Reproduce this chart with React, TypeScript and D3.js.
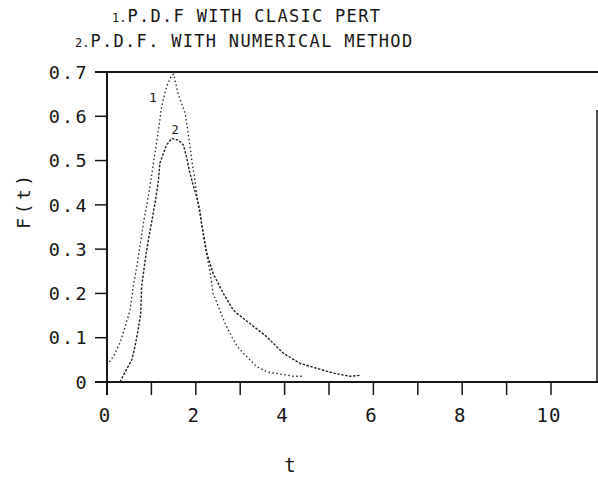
import React from "react";
import * as d3 from "d3";

const titleLine1 = "P.D.F WITH CLASIC PERT";
const titleLine2 = "P.D.F. WITH NUMERICAL METHOD";
const xTicks = [0, 1, 2, 3, 4, 5, 6, 7, 8, 9, 10];
const xTickLabels = [0, 2, 4, 6, 8, 10];
const yTicks = [0, 0.1, 0.2, 0.3, 0.4, 0.5, 0.6, 0.7];

// Curve 1: PDF with classic PERT
const pertT = [0, 0.14, 0.29, 0.41, 0.52, 0.59, 0.67, 0.74, 0.82, 0.93, 1.0, 1.08, 1.16, 1.23, 1.34, 1.46, 1.5, 1.61, 1.76, 1.83, 1.91, 1.98, 2.06, 2.13, 2.22, 2.32, 2.39, 2.51, 2.66, 2.81, 2.95, 3.07, 3.22, 3.37, 3.6, 3.9, 4.2, 4.4];
const pertF = [0.038, 0.057, 0.088, 0.125, 0.163, 0.215, 0.26, 0.305, 0.358, 0.418, 0.463, 0.517, 0.569, 0.621, 0.667, 0.693, 0.695, 0.648, 0.607, 0.561, 0.501, 0.456, 0.396, 0.358, 0.3, 0.25, 0.2, 0.17, 0.132, 0.102, 0.078, 0.065, 0.05, 0.035, 0.023, 0.018, 0.013, 0.013];

// Curve 2: PDF with numerical method
const numT = [0.29, 0.41, 0.56, 0.63, 0.7, 0.76, 0.78, 0.86, 0.93, 1.0, 1.08, 1.16, 1.19, 1.27, 1.34, 1.46, 1.61, 1.72, 1.79, 1.85, 1.93, 2.02, 2.09, 2.13, 2.25, 2.39, 2.62, 2.84, 2.9, 3.22, 3.6, 3.97, 4.35, 4.72, 5.1, 5.47, 5.7];
const numF = [0, 0.023, 0.05, 0.08, 0.117, 0.155, 0.215, 0.275, 0.32, 0.358, 0.403, 0.456, 0.494, 0.516, 0.535, 0.55, 0.546, 0.535, 0.509, 0.479, 0.448, 0.418, 0.388, 0.358, 0.29, 0.245, 0.2, 0.163, 0.157, 0.132, 0.102, 0.065, 0.042, 0.031, 0.02, 0.013, 0.015];

const W = 598;
const H = 477;
const FONT = "'DejaVu Sans Mono', 'Liberation Mono', monospace";
const INK = "#161616";

export default function App() {
  const x = d3.scaleLinear().domain([0, 10]).range([107, 551]);
  const y = d3.scaleLinear().domain([0, 0.7]).range([382, 72]);
  const line = d3
    .line<[number, number]>()
    .x((d) => x(d[0]))
    .y((d) => y(d[1]));
  const pertPts = pertT.map((t, i) => [t, pertF[i]] as [number, number]);
  const numPts = numT.map((t, i) => [t, numF[i]] as [number, number]);
  const x0 = x(0);
  const y0 = y(0);
  const yTop = y(0.7);

  return (
    <svg
      width={W}
      height={H}
      style={{ position: "absolute", left: 0, top: 0, background: "#fff" }}
      fontFamily={FONT}
    >
      <rect width={W} height={H} fill="#fff" />
      {/* Title */}
      <text x={112} y={22} fill={INK} fontSize={17} letterSpacing={1.3}>
        <tspan fontSize={12} letterSpacing={0}>1.</tspan>
        <tspan dx={1}>{titleLine1}</tspan>
      </text>
      <text x={75} y={47} fill={INK} fontSize={17} letterSpacing={1.3}>
        <tspan fontSize={12} letterSpacing={0}>2.</tspan>
        <tspan dx={1}>{titleLine2}</tspan>
      </text>

      {/* frame */}
      <line x1={95} x2={W} y1={yTop} y2={yTop} stroke={INK} strokeWidth={2} />
      <line x1={x0} x2={x0} y1={yTop} y2={y0 + 13} stroke={INK} strokeWidth={2} />
      <line x1={95} x2={W} y1={y0} y2={y0} stroke={INK} strokeWidth={2} />
      <line x1={597} x2={597} y1={110} y2={y0} stroke={INK} strokeWidth={1.5} />

      {/* y ticks */}
      {yTicks.map((v) => (
        <g key={"y" + v}>
          <line x1={95} x2={x0} y1={y(v)} y2={y(v)} stroke={INK} strokeWidth={1.5} />
          <text
            x={89}
            y={y(v)}
            dy="0.36em"
            textAnchor="end"
            fontSize={18.5}
            letterSpacing={2.3}
            fill={INK}
          >
            {v === 0 ? "0" : v.toFixed(1)}
          </text>
        </g>
      ))}

      {/* x ticks */}
      {xTicks.map((v) => (
        <line key={"x" + v} x1={x(v)} x2={x(v)} y1={y0} y2={y0 + 13} stroke={INK} strokeWidth={1.5} />
      ))}
      {xTickLabels.map((v) => (
        <text
          key={"xl" + v}
          x={x(v) - 2}
          y={422}
          textAnchor="middle"
          fontSize={19}
          letterSpacing={1}
          fill={INK}
        >
          {v}
        </text>
      ))}

      {/* axis titles */}
      <text x={290} y={472} textAnchor="middle" fontSize={19} fill={INK}>
        t
      </text>
      <text
        transform="translate(30,200) rotate(-90)"
        textAnchor="middle"
        fontSize={18}
        letterSpacing={3.5}
        fill={INK}
      >
        F(t)
      </text>

      {/* curves */}
      <path
        d={line(pertPts) || ""}
        fill="none"
        stroke="#222"
        strokeWidth={1.3}
        strokeDasharray="1.5 2.5"
      />
      <path
        d={line(numPts) || ""}
        fill="none"
        stroke="#222"
        strokeWidth={1.4}
        strokeDasharray="2.5 1.5"
      />

      {/* curve labels */}
      <text x={153} y={102} textAnchor="middle" fontSize={13} fill={INK}>
        1
      </text>
      <text x={175} y={134} textAnchor="middle" fontSize={12} fill={INK}>
        2
      </text>
    </svg>
  );
}
